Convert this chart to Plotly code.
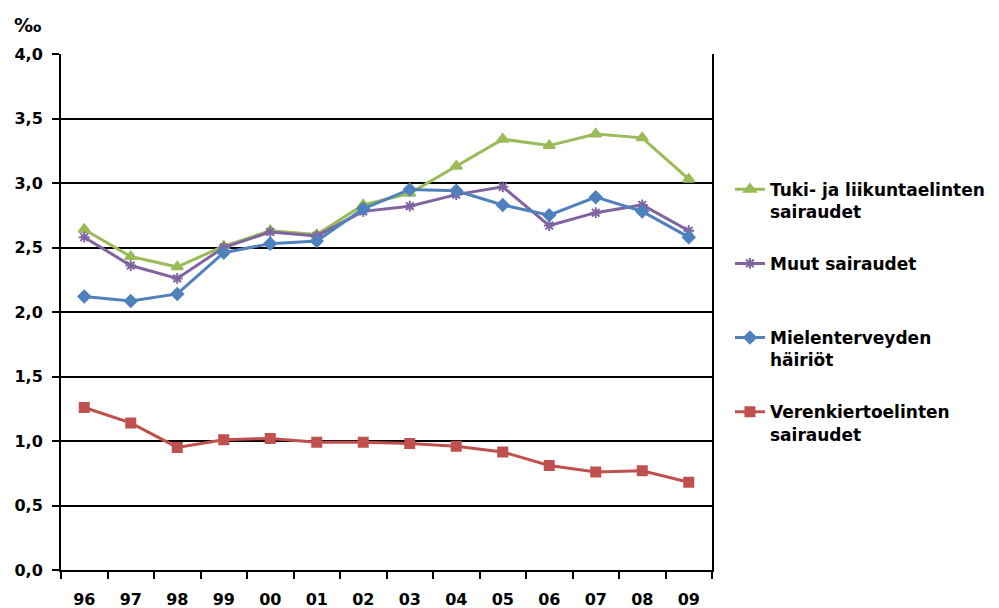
import plotly.graph_objects as go

# Years (two-digit labels) and rates per mille by diagnosis group
years = ["96", "97", "98", "99", "00", "01", "02", "03", "04", "05", "06", "07", "08", "09"]
tuki = [2.64, 2.43, 2.35, 2.51, 2.63, 2.60, 2.83, 2.92, 3.13, 3.34, 3.29, 3.38, 3.35, 3.03]
muut = [2.58, 2.36, 2.26, 2.50, 2.62, 2.59, 2.78, 2.82, 2.91, 2.97, 2.67, 2.77, 2.83, 2.63]
mielen = [2.12, 2.085, 2.14, 2.46, 2.53, 2.55, 2.80, 2.95, 2.94, 2.83, 2.75, 2.89, 2.78, 2.58]
veren = [1.26, 1.14, 0.95, 1.01, 1.02, 0.99, 0.99, 0.98, 0.96, 0.915, 0.81, 0.76, 0.77, 0.68]

series = [
    ("Tuki- ja liikuntaelinten<br>sairaudet", tuki, "#9BBB59", "triangle-up", 10),
    ("Muut sairaudet<br> ", muut, "#8064A2", "asterisk-open", 9),
    ("Mielenterveyden<br>häiriöt", mielen, "#4F81BD", "diamond", 9),
    ("Verenkiertoelinten<br>sairaudet", veren, "#C0504D", "square", 9),
]

FONT = "DejaVu Sans"

fig = go.Figure()
for i, (name, vals, color, symbol, size) in enumerate(series):
    fig.add_trace(go.Scatter(
        x=years, y=vals, name=name, mode="lines+markers",
        legendgroup=f"g{i}",
        line=dict(color=color, width=3),
        marker=dict(symbol=symbol, size=size, color=color,
                    line=dict(color=color, width=2)),
    ))

fig.update_layout(
    width=999, height=608,
    margin=dict(l=61, r=287, t=54, b=38, autoexpand=False),
    paper_bgcolor="white", plot_bgcolor="white",
    separators=", ",
    font=dict(family=FONT, color="black"),
    legend=dict(
        x=1.0276, xanchor="left", y=0.772, yanchor="top",
        valign="top", tracegroupgap=27,
        font=dict(family=FONT, size=17, color="black", weight="bold"),
        traceorder="grouped", itemwidth=30,
    ),
    xaxis=dict(
        type="category", showgrid=False, range=[-0.5, 13.5],
        showline=True, linecolor="black", linewidth=2,
        ticks="outside", tickson="boundaries", ticklen=7, tickwidth=1.5,
        tickcolor="black", ticklabelstandoff=14,
        tickfont=dict(family=FONT, size=16, weight="bold"),
        automargin=False,
    ),
    yaxis=dict(
        range=[0, 4], dtick=0.5, tickformat=".1f",
        showgrid=True, gridcolor="black", gridwidth=2,
        showline=True, linecolor="black", linewidth=2, mirror=True,
        ticks="outside", ticklen=7, tickwidth=1.5, tickcolor="black",
        ticklabelstandoff=6,
        tickfont=dict(family=FONT, size=16, weight="bold"),
        zeroline=False, automargin=False,
    ),
    annotations=[dict(
        text="‰", xref="paper", yref="paper", x=-0.051, y=1.056,
        xanchor="center", yanchor="middle", showarrow=False,
        font=dict(family=FONT, size=19, weight="bold"),
    )],
)

fig.write_html("out.html")
